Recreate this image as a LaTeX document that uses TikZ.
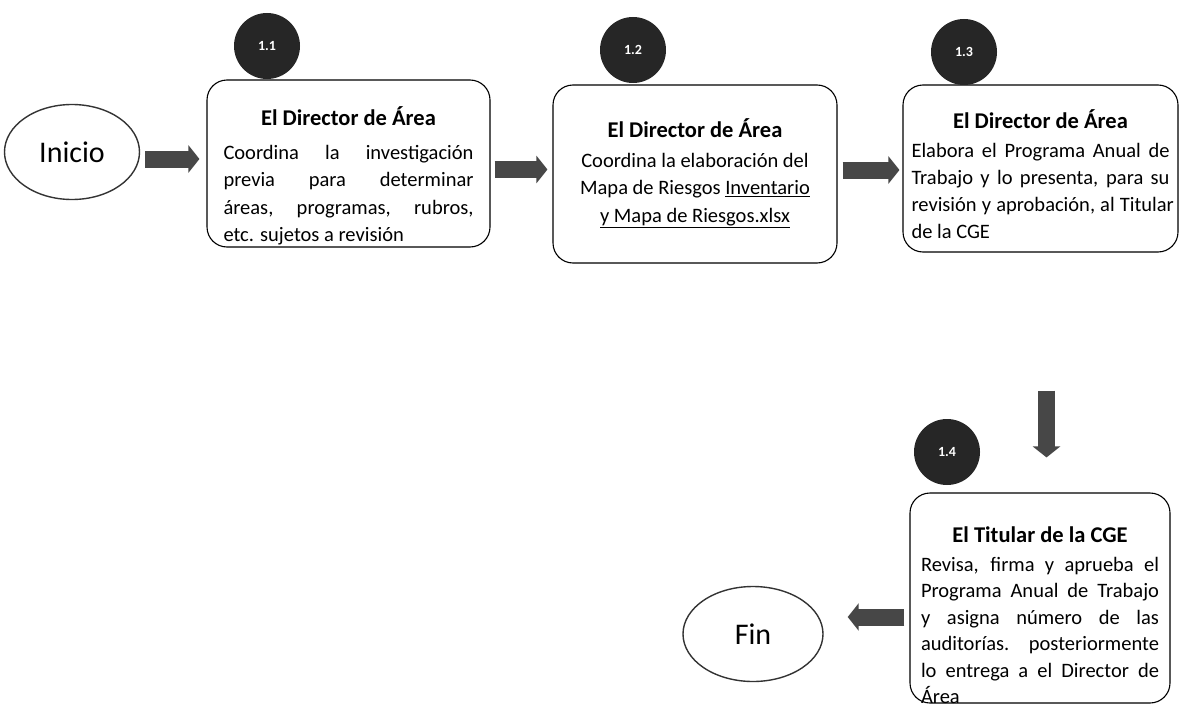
\documentclass[tikz,border=0pt]{standalone}
\usepackage{fontspec}
\setmainfont{Carlito}
\usetikzlibrary{arrows.meta,shapes.geometric}
\newcommand\Lc[1]{\hbox to\linewidth{\hfil#1\hfil}}
\newcommand\Lj[1]{\hbox to\linewidth{\spaceskip=.25em plus 1fil\relax#1}}
\newcommand\Ll[1]{\hbox to\linewidth{#1\hfil}}
\newcommand\Ttl[2][2pt]{\Lc{\fontsize{22.5}{28}\selectfont\bfseries #2}\vskip#1}
\begin{document}
\begin{tikzpicture}[x=1pt,y=-1pt,
  stepbox/.style={draw=black,line width=1.1pt,rounded corners=20pt,inner sep=0pt,fill=white},
  numdot/.style={circle,fill=black!85,minimum size=66pt,inner sep=0pt,text=white,font=\fontsize{14}{14}\selectfont\bfseries},
  term/.style={ellipse,draw=black!80,line width=1.4pt,inner sep=0pt,font=\fontsize{30}{30}\selectfont},
  barrow/.style={line width=17pt,draw=black!72,-{Triangle[width=27pt,length=11pt]}}]
\useasboundingbox (0,0) rectangle (1180,709);

\node[term,minimum width=135pt,minimum height=95pt] (inicio) at (72,152) {Inicio};

\node[stepbox,minimum width=283pt,minimum height=167pt] (b1) at (348.5,163.5)
 {\parbox[c][167pt][t]{250pt}{\fontsize{20.5}{27.5}\selectfont\vspace*{27pt}%
  \Ttl[6pt]{El Director de Área}%
  \Lj{Coordina la investigación}%
  \Lj{previa para determinar}%
  \Lj{áreas, programas, rubros,}%
  \Ll{etc. sujetos a revisión}}};

\node[stepbox,minimum width=284pt,minimum height=178pt] (b2) at (695,174)
 {\parbox[c][178pt][t]{250pt}{\fontsize{20.5}{27.5}\selectfont\vspace*{34pt}%
  \Ttl{El Director de Área}%
  \Lc{Coordina la elaboración del}%
  \Lc{Mapa de Riesgos \underline{Inventario}}%
  \Lc{\underline{y Mapa de Riesgos.xlsx}}}};

\node[stepbox,minimum width=275pt,minimum height=167pt] (b3) at (1040.5,168.5)
 {\parbox[c][167pt][t]{258pt}{\fontsize{20.5}{27}\selectfont\vspace*{25pt}%
  \Ttl{El Director de Área}%
  \Lj{Elabora el Programa Anual de}%
  \Lj{Trabajo y lo presenta, para su}%
  \Lj{revisión y aprobación, al Titular}%
  \Ll{de la CGE}}};

\node[stepbox,minimum width=260pt,minimum height=210pt] (b4) at (1040,598)
 {\parbox[c][210pt][t]{238pt}{\fontsize{20.5}{26.5}\selectfont\vspace*{34pt}%
  \Ttl{El Titular de la CGE}%
  \Lj{Revisa, firma y aprueba el}%
  \Lj{Programa Anual de Trabajo}%
  \Lj{y asigna número de las}%
  \Lj{auditorías. posteriormente}%
  \Lj{lo entrega a el Director de}%
  \Ll{Área}}};

\node[term,minimum width=140pt,minimum height=95pt] (fin) at (753,634) {Fin};

\node[numdot] (n1) at (267,46) {1.1};
\node[numdot] (n2) at (633,50) {1.2};
\node[numdot] (n3) at (964,52) {1.3};
\node[numdot] (n4) at (947,452) {1.4};

\draw[barrow,shorten <=5pt,shorten >=7pt] ([yshift=-7pt]inicio.east) -- ([yshift=-7pt]inicio.east -| b1.west);
\draw[barrow,shorten <=4pt,shorten >=5pt] ([yshift=-6pt]b1.east) -- ([yshift=-6pt]b1.east -| b2.west);
\draw[barrow,shorten <=5pt,shorten >=3pt] ([yshift=4pt]b2.east) -- ([yshift=4pt]b2.east -| b3.west);
\draw[barrow,shorten <=138pt,shorten >=35pt] ([xshift=6pt]b3.south) -- ([xshift=6pt]b3.south |- b4.north);
\draw[barrow,shorten <=5pt,shorten >=24pt] ([yshift=-19pt]b4.west) -- ([yshift=-19pt]b4.west -| fin.east);
\end{tikzpicture}
\end{document}
